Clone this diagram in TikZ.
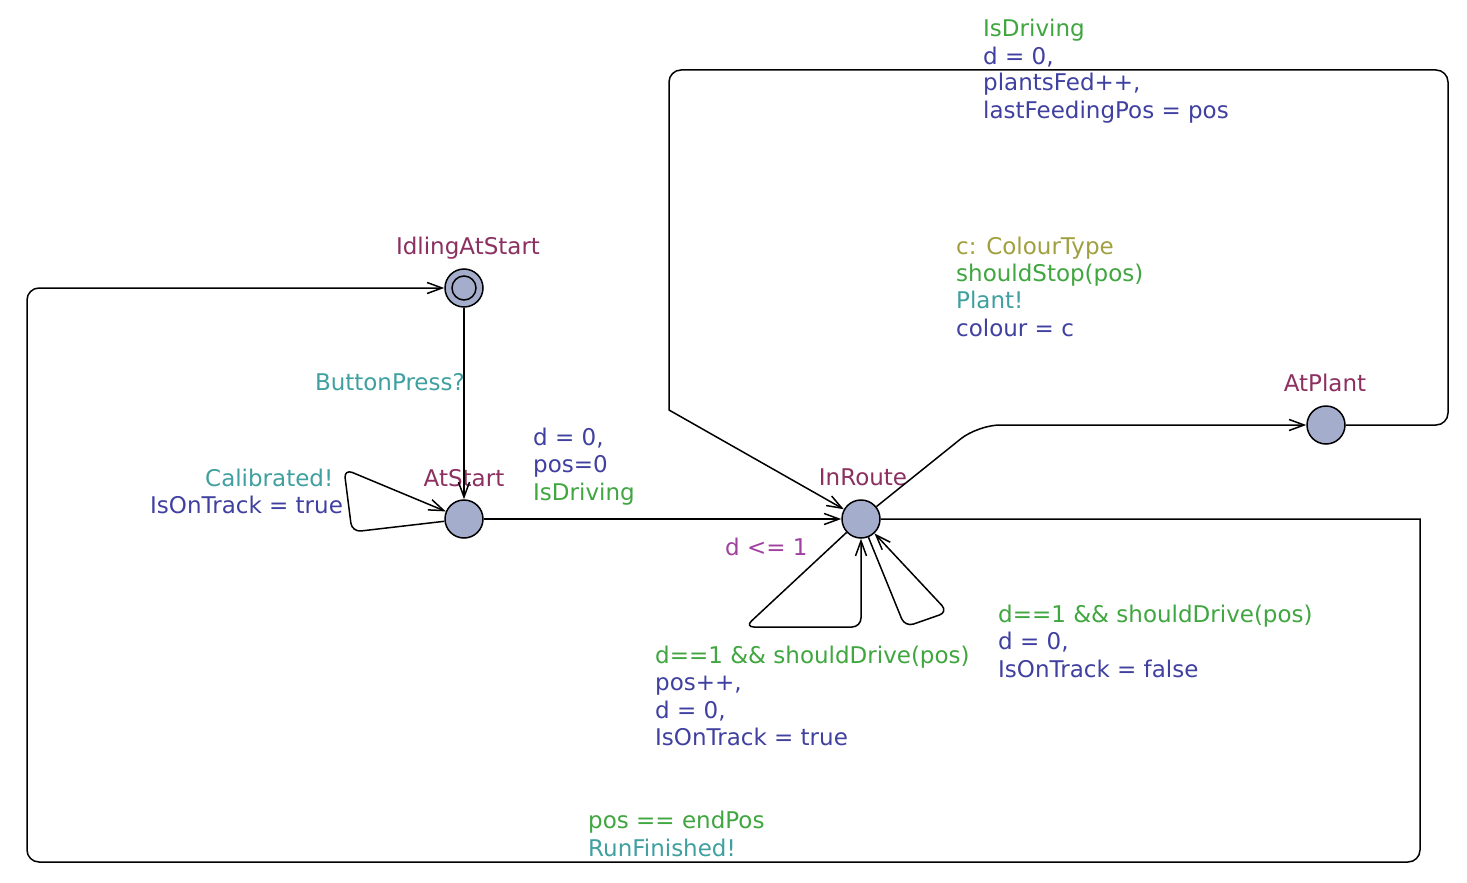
\documentclass[tikz,border=0pt]{standalone}
\usepackage{fontspec}
\setmainfont{DejaVu Sans}
\usetikzlibrary{arrows.meta}
\definecolor{locfill}{RGB}{165,173,204}
\definecolor{namec}{RGB}{139,48,96}
\definecolor{guardc}{RGB}{64,166,64}
\definecolor{assignc}{RGB}{64,64,160}
\definecolor{syncc}{RGB}{64,160,160}
\definecolor{invc}{RGB}{160,64,160}
\definecolor{selc}{RGB}{160,160,64}
\tikzset{
  loc/.style={circle,draw=black,fill=locfill,line width=1.5pt,minimum size=38pt,inner sep=0pt},
  edge/.style={line width=1.5pt,-{Straight Barb[length=15pt,width=11pt,line width=1.5pt]}},
  lbl/.style={inner sep=0pt,font=\fontsize{23}{27}\selectfont,anchor=base west},
  lblc/.style={inner sep=0pt,font=\fontsize{23}{27}\selectfont,anchor=base},
  lble/.style={inner sep=0pt,font=\fontsize{23}{27}\selectfont,anchor=base east},
}
\begin{document}
\begin{tikzpicture}[x=1pt,y=-1pt]
\useasboundingbox (0,0) rectangle (1467,883);
\fill[white] (0,0) rectangle (1467,883);
% locations
\node[loc] (IdlingAtStart) at (464,288) {};
\draw[line width=1.5pt] (IdlingAtStart.center) circle (12pt);
\node[loc] (AtStart) at (464,519) {};
\node[loc] (InRoute) at (861,519) {};
\node[loc] (AtPlant) at (1326,425) {};
% names
\node[lblc,text=namec] (nIdle) at (468,254) {IdlingAtStart};
\node[lblc,text=namec] (nAtStart) at (464,486) {AtStart};
\node[lblc,text=namec] (nInRoute) at (863,485) {InRoute};
\node[lblc,text=namec] (nAtPlant) at (1325,391) {AtPlant};
\node[lbl,text=invc] (inv) at (725,555) {d <= 1};
% edges
\draw[edge] (IdlingAtStart) -- (AtStart);
\draw[edge,rounded corners=9pt] (AtStart) -- (352,532) -- (344,469) -- (AtStart);
\draw[edge] (AtStart) -- (InRoute);
\draw[edge,rounded corners=9pt] (InRoute) -- (745,627) -- (861,627) -- (InRoute);
\draw[edge,rounded corners=9pt] (InRoute) -- (905,627) -- (948,612) -- (InRoute);
\draw[edge,rounded corners=22pt] (InRoute) -- (978,425) -- (AtPlant);
\draw[edge,rounded corners=12pt] (AtPlant) -- (1448,425) -- (1448,70) -- (669,70) -- (669,395) [sharp corners] -- (669,410) -- (InRoute);
\draw[edge] (InRoute) -- (1420,519) -- (1420,540) [rounded corners=12pt] -- (1420,862) -- (27,862) -- (27,288) -- (IdlingAtStart);
% edge labels
\node[lble,text=syncc] (e1s) at (465,390) {ButtonPress?};
\node[lbl,text=syncc] (e2s) at (205,486) {Calibrated!};
\node[lbl,text=assignc] (e2a) at (150,513) {IsOnTrack = true};
\node[lbl,text=assignc] (e3a1) at (533,445) {d = 0,};
\node[lbl,text=assignc] (e3a2) at (533,472) {pos=0};
\node[lbl,text=guardc] (e3s) at (533,500) {IsDriving};
\node[lbl,text=guardc] (e4g) at (655,663) {d==1 \&\& shouldDrive(pos)};
\node[lbl,text=assignc] (e4a1) at (655,690) {pos++,};
\node[lbl,text=assignc] (e4a2) at (655,718) {d = 0,};
\node[lbl,text=assignc] (e4a3) at (655,745) {IsOnTrack = true};
\node[lbl,text=guardc] (e5g) at (998,622) {d==1 \&\& shouldDrive(pos)};
\node[lbl,text=assignc] (e5a1) at (998,649) {d = 0,};
\node[lbl,text=assignc] (e5a2) at (998,677) {IsOnTrack = false};
\node[lbl,text=selc] (e6sel) at (956,254) {c: ColourType};
\node[lbl,text=guardc] (e6g) at (956,281) {shouldStop(pos)};
\node[lbl,text=syncc] (e6s) at (956,308) {Plant!};
\node[lbl,text=assignc] (e6a) at (956,336) {colour = c};
\node[lbl,text=guardc] (e7s) at (983,37) {IsDriving};
\node[lbl,text=assignc] (e7a1) at (983,64) {d = 0,};
\node[lbl,text=assignc] (e7a2) at (983,91) {plantsFed++,};
\node[lbl,text=assignc] (e7a3) at (983,118) {lastFeedingPos = pos};
\node[lbl,text=guardc] (e8g) at (588,828) {pos == endPos};
\node[lbl,text=syncc] (e8s) at (588,856) {RunFinished!};
\end{tikzpicture}
\end{document}
